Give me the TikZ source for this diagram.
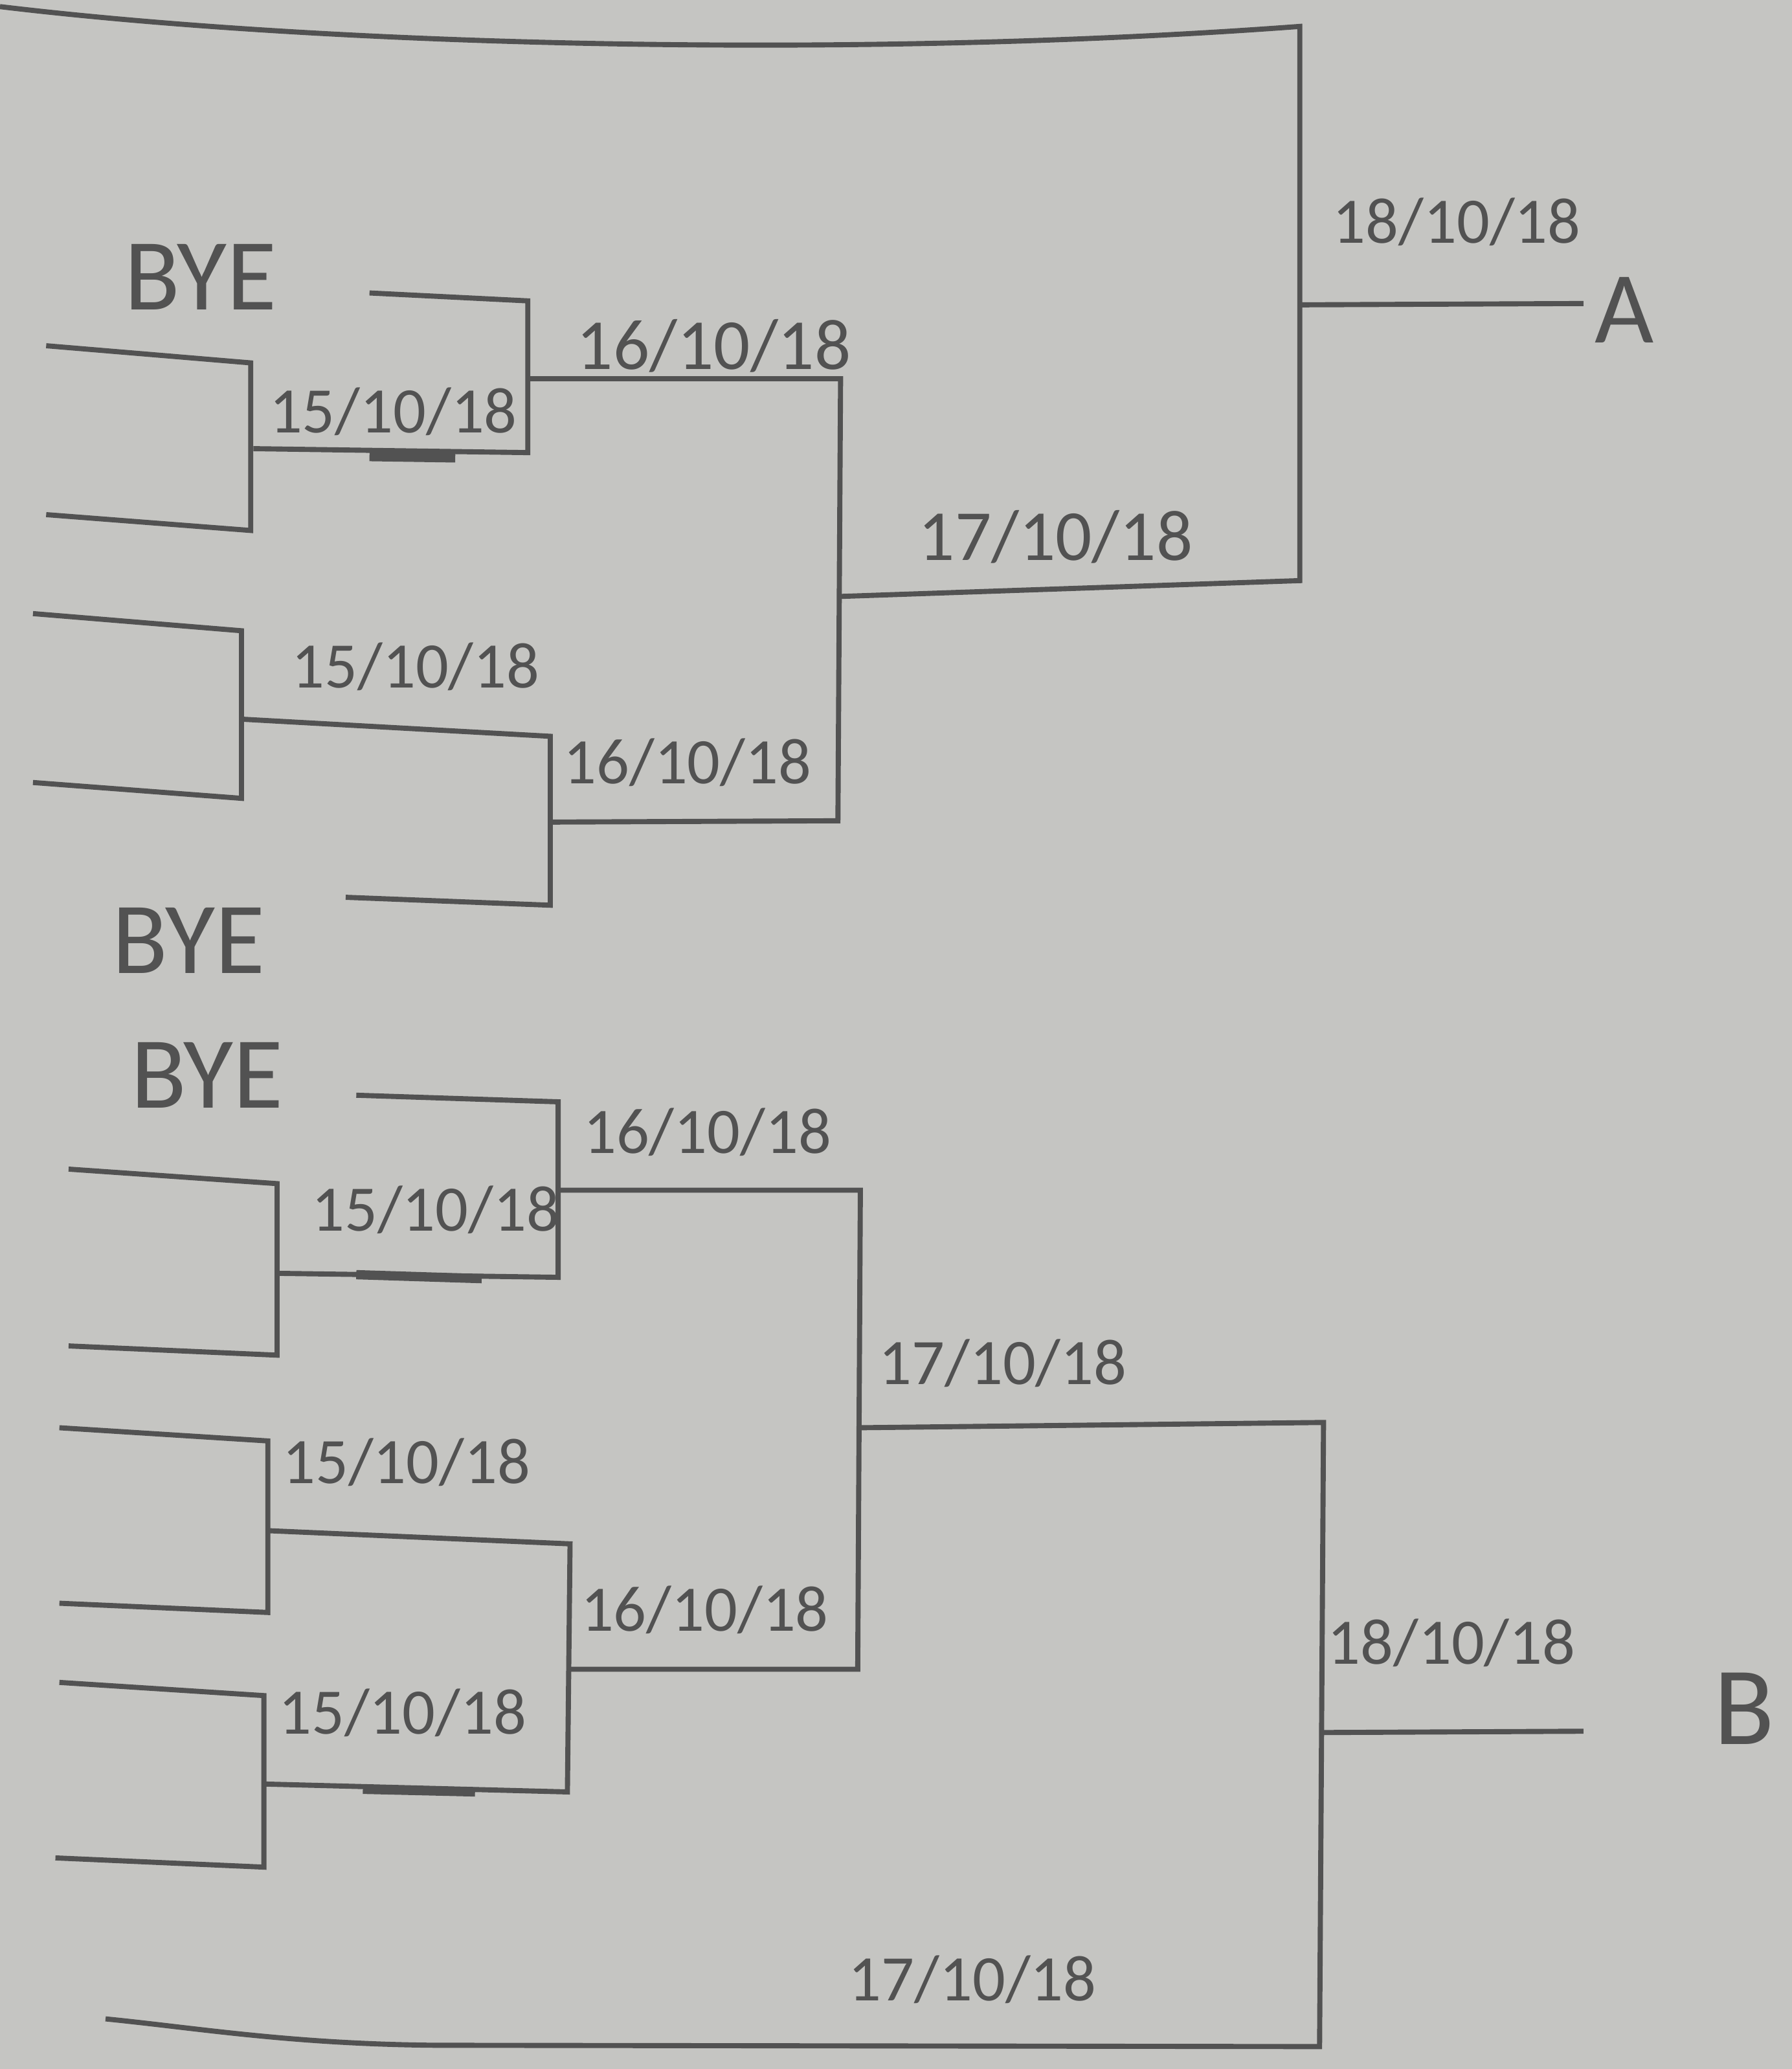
\documentclass[tikz,border=0pt]{standalone}
\usepackage{fontspec}
\setmainfont{Carlito}
\usetikzlibrary{positioning}
\definecolor{paper}{RGB}{197,197,194}
\definecolor{ink}{RGB}{82,82,82}

\begin{document}
\begin{tikzpicture}[x=0.01cm, y=-0.01cm]
    \tikzset{
      bracket/.style={draw=ink, line width=1.1pt, line join=miter},
      penmark/.style={draw=ink, line width=2pt},
      date/.style={text=ink, inner sep=0pt, font=\fontsize{14}{16}\selectfont},
      bigdate/.style={date, font=\fontsize{15.5}{18}\selectfont},
      tag/.style={text=ink, inner sep=0pt, font=\fontsize{22}{26}\selectfont}
    }
    \fill[paper] (0,0) rectangle (1358,1568);
    \useasboundingbox (0,0) rectangle (1358,1568);

    % junctions
    \coordinate (finA) at (985,231);
    \coordinate (semiA) at (637,452);
    \coordinate (qa1) at (400,287);
    \coordinate (qa2) at (417,623);
    \coordinate (finB) at (1002,1313);
    \coordinate (semiB) at (651,1082);
    \coordinate (qb1) at (423,902);
    \coordinate (qb2) at (431,1265);

    % half A
    \draw[bracket] (0,5) .. controls (250,35) and (650,45) .. (985,20) -- (985,440) -- (semiA);
    \draw[bracket] (finA) -- (1200,230);
    \draw[bracket] (280,222) -- (400,228) -- (400,343) -- (192,340);
    \draw[bracket] (35,262) -- (190,275) -- (190,402) -- (35,390);
    \draw[bracket] (qa1) -- (637,287) -- (635,622) -- (qa2);
    \draw[bracket] (25,465) -- (183,478) -- (183,605) -- (25,593);
    \draw[bracket] (183,545) -- (417,558) -- (417,686) -- (262,680);
    \draw[penmark] (280,346) -- (345,347);

    % half B
    \draw[bracket] (270,830) -- (423,835) -- (423,968) -- (212,965);
    \draw[bracket] (52,886) -- (210,897) -- (210,1027) -- (52,1020);
    \draw[bracket] (qb1) -- (652,902) -- (650,1265) -- (qb2);
    \draw[bracket] (semiB) -- (1003,1078) -- (1000,1551) -- (330,1550) .. controls (220,1549) and (150,1537) .. (80,1530);
    \draw[bracket] (finB) -- (1200,1312);
    \draw[bracket] (45,1082) -- (203,1092) -- (203,1222) -- (45,1215);
    \draw[bracket] (203,1160) -- (432,1170) -- (430,1358) -- (200,1352);
    \draw[bracket] (45,1275) -- (200,1285) -- (200,1415) -- (42,1408);
    \draw[penmark] (270,966) -- (365,969);
    \draw[penmark] (275,1356) -- (360,1358);

    % labels A
    \node[tag] (byeA1) at (152,210) {BYE};
    \node[tag] (byeA2) at (143,713) {BYE};
    \node[tag] (teamA) at (1231,235) {A};
    \node[date] (finAdate) at (1104,168) {18/10/18};
    \node[bigdate] (qa1date) at (541,262) {16/10/18};
    \node[date] (ra1date) at (298,312) {15/10/18};
    \node[bigdate] (semiAdate) at (800,407) {17/10/18};
    \node[date] (ra2date) at (315,505) {15/10/18};
    \node[date] (qa2date) at (521,578) {16/10/18};

    % labels B
    \node[tag] (byeB1) at (157,815) {BYE};
    \node[tag, font=\fontsize{24}{28}\selectfont] (teamB) at (1322,1295) {B};
    \node[date] (qb1date) at (536,858) {16/10/18};
    \node[date] (rb1date) at (330,917) {15/10/18};
    \node[date] (semiBdate) at (760,1033) {17/10/18};
    \node[date] (rb2date) at (308,1108) {15/10/18};
    \node[date] (qb2date) at (534,1220) {16/10/18};
    \node[date] (rb3date) at (305,1298) {15/10/18};
    \node[date] (finBdate) at (1100,1245) {18/10/18};
    \node[date] (lowBdate) at (737,1500) {17/10/18};
\end{tikzpicture}
\end{document}
